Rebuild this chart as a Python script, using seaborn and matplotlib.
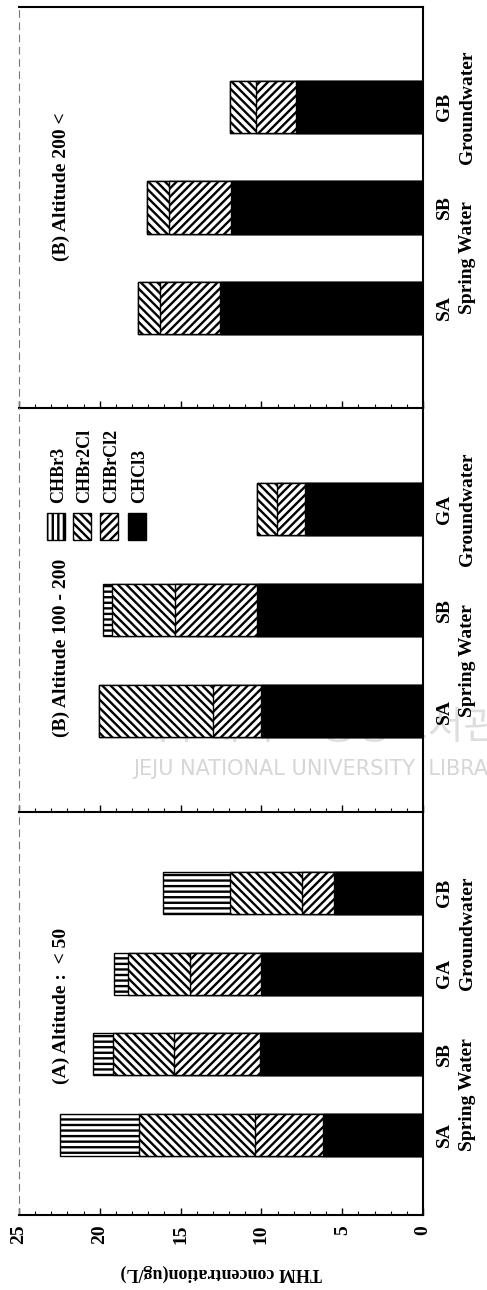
import numpy as np
import pandas as pd
import matplotlib
matplotlib.use("Agg")
import matplotlib.pyplot as plt
from matplotlib.patches import Rectangle
from matplotlib.ticker import MultipleLocator
from matplotlib.transforms import blended_transform_factory
import seaborn as sns

# THM species, drawn from the outer end of each stack inwards
components = ["CHBr3", "CHBr2Cl", "CHBrCl2", "CHCl3"]

# (A) Altitude < 50
sites_a = ["SA", "SB", "GA", "GB"]
chcl3_a = [6.2, 10.1, 10.0, 5.5]
chbrcl2_a = [4.2, 5.3, 4.4, 2.0]
chbr2cl_a = [7.2, 3.8, 3.85, 4.45]
chbr3_a = [4.85, 1.25, 0.85, 4.15]

# (B) Altitude 100 - 200
sites_b = ["SA", "SB", "GA"]
chcl3_b = [10.0, 10.3, 7.3]
chbrcl2_b = [3.0, 5.05, 1.75]
chbr2cl_b = [7.05, 3.9, 1.2]
chbr3_b = [0.0, 0.55, 0.0]

# (B) Altitude 200 <
sites_c = ["SA", "SB", "GB"]
chcl3_c = [12.55, 11.9, 7.85]
chbrcl2_c = [3.75, 3.8, 2.5]
chbr2cl_c = [1.35, 1.35, 1.6]
chbr3_c = [0.0, 0.0, 0.0]

titles = ["(B) Altitude 200 <", "(B) Altitude 100 - 200", "(A) Altitude :  < 50"]
tick_values = [0, 5, 10, 15, 20, 25]
value_label = "THM concentration(ug/L)"
water_types = {"S": "Spring Water", "G": "Groundwater"}

bar_hatch = {"CHBr3": "---", "CHBr2Cl": "\\\\\\\\", "CHBrCl2": "////", "CHCl3": ""}
key_hatch = {"CHBr3": "|||", "CHBr2Cl": "\\\\\\\\", "CHBrCl2": "////", "CHCl3": ""}
face = {"CHBr3": "white", "CHBr2Cl": "white", "CHBrCl2": "white", "CHCl3": "black"}

sns.set_theme(style="white")
plt.rcParams["font.family"] = ["Liberation Serif", "DejaVu Serif"]
plt.rcParams["font.weight"] = "bold"
plt.rcParams["hatch.linewidth"] = 1.7
plt.rcParams["hatch.color"] = "black"

fig = plt.figure(figsize=(4.87, 12.9), dpi=100)

# axes rectangles, top panel first
rects = [
    (0.039, 0.6837, 0.8296, 0.3109),
    (0.039, 0.3705, 0.8296, 0.3132),
    (0.039, 0.0581, 0.8296, 0.3117),
]
panel_data = [
    (sites_c, chcl3_c, chbrcl2_c, chbr2cl_c, chbr3_c),
    (sites_b, chcl3_b, chbrcl2_b, chbr2cl_b, chbr3_b),
    (sites_a, chcl3_a, chbrcl2_a, chbr2cl_a, chbr3_a),
]
title_pos = [0.551, 0.406, 0.52]

axes = []
for k, (rect, pdata) in enumerate(zip(rects, panel_data)):
    ax = fig.add_axes(rect)
    axes.append(ax)
    sites, chcl3, chbrcl2, chbr2cl, chbr3 = pdata
    df = pd.DataFrame({"site": sites, "CHCl3": chcl3, "CHBrCl2": chbrcl2,
                       "CHBr2Cl": chbr2cl, "CHBr3": chbr3})
    cum = df[["CHCl3", "CHBrCl2", "CHBr2Cl", "CHBr3"]].cumsum(axis=1)
    cum["site"] = df["site"]
    order = sites[::-1]
    n = len(sites)

    for comp in components:
        sns.barplot(data=cum, x=comp, y="site", order=order, orient="h",
                    width=0.52, color=face[comp], saturation=1,
                    edgecolor="black", linewidth=1.0, hatch=bar_hatch[comp],
                    errorbar=None, ax=ax)

    ax.set_xlim(25, 0)
    ax.set_ylim(n, -1)
    ax.set_xlabel("")
    ax.set_ylabel("")

    # value axis
    ax.xaxis.set_major_locator(MultipleLocator(5))
    ax.xaxis.set_minor_locator(MultipleLocator(1))
    ax.tick_params(axis="x", which="major", direction="in", length=5, width=1,
                   color="black", bottom=True)
    ax.tick_params(axis="x", which="minor", direction="in", length=3, width=0.8,
                   color="black", bottom=True)
    if k == 2:
        ax.set_xticks(tick_values)
        ax.set_xticklabels([str(v) for v in tick_values])
        ax.tick_params(axis="x", labelrotation=90, labelsize=14, pad=7,
                       labelcolor="black")
        ax.set_xlabel(value_label, rotation=180, fontsize=13, labelpad=14,
                      color="black", fontweight="bold")
    else:
        ax.tick_params(axis="x", labelbottom=False)

    # site labels on the right
    ax.yaxis.tick_right()
    ax.tick_params(axis="y", length=0, pad=9, labelsize=14, labelcolor="black")
    for lab in ax.get_yticklabels():
        lab.set_rotation(90)
        lab.set_va("center")
        lab.set_fontweight("bold")

    trans = blended_transform_factory(ax.transAxes, ax.transData)
    for prefix, name in water_types.items():
        pos = [order.index(s) for s in sites if s.startswith(prefix)]
        ax.text(1.109, float(np.mean(pos)), name, transform=trans, rotation=90,
                ha="center", va="center", fontsize=14, color="black",
                fontweight="bold", clip_on=False)

    ax.text(0.106, title_pos[k], titles[k], transform=ax.transAxes,
            rotation=90, ha="center", va="center", fontsize=14,
            color="black", fontweight="bold")

    for side in ["right", "bottom", "top"]:
        ax.spines[side].set_color("black")
        ax.spines[side].set_linewidth(1.5)
    ax.spines["top"].set_visible(k == 0)
    ax.spines["left"].set_color("#777777")
    ax.spines["left"].set_linewidth(0.8)
    ax.spines["left"].set_linestyle((0, (6, 5)))
    ax.patch.set_alpha(0)

# legend key in the middle panel
ax_mid = axes[1]
key_x = [0.092, 0.156, 0.223, 0.292]
for comp, xc in zip(components, key_x):
    ax_mid.add_patch(Rectangle((xc - 0.0225, 0.673), 0.045, 0.067,
                               transform=ax_mid.transAxes, facecolor=face[comp],
                               edgecolor="black", linewidth=1.0,
                               hatch=key_hatch[comp], clip_on=False))
    ax_mid.text(xc + 0.007, 0.765, comp, transform=ax_mid.transAxes,
                rotation=90, ha="center", va="bottom", fontsize=13,
                color="black", fontweight="bold")

# library watermark behind the middle panel bars
ax_mid.text(0.273, 0.4357, "제주대학교 중앙도서관", transform=fig.transFigure,
            fontsize=28, color="#dedede", family=["Noto Sans CJK KR"],
            fontweight="normal", ha="left", va="center", zorder=0, clip_on=False)
ax_mid.text(0.273, 0.404, "JEJU NATIONAL UNIVERSITY  LIBRARY",
            transform=fig.transFigure, fontsize=15, color="#d6d6d6",
            family=["DejaVu Sans"], fontweight="normal", ha="left",
            va="center", zorder=0, clip_on=False)

fig.savefig("out.png", dpi=100, facecolor="white")
